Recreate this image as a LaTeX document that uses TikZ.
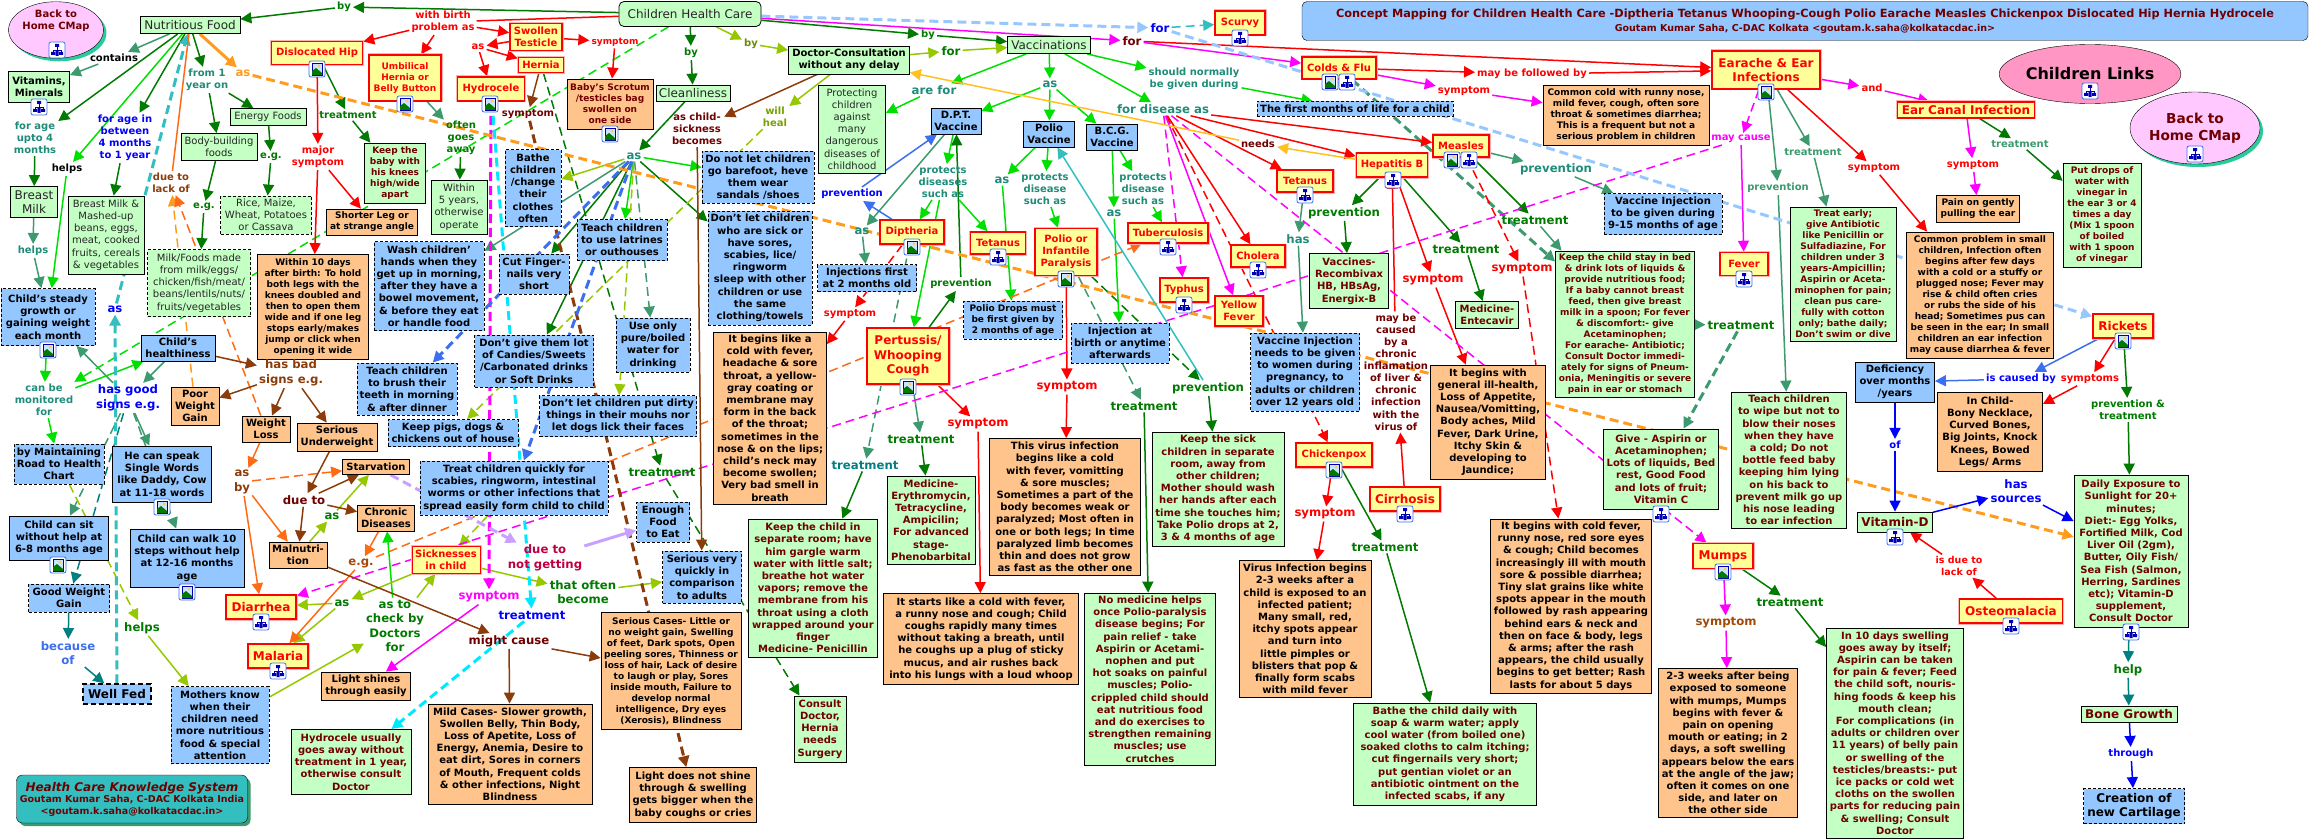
\documentclass[tikz,border=0pt]{standalone}
\usepackage{fontspec}
\setmainfont{DejaVu Sans}
\usetikzlibrary{arrows.meta,backgrounds,shapes.geometric,shadows}
\definecolor{cdark}{HTML}{007A00}
\definecolor{cbright}{HTML}{00E000}
\definecolor{clime}{HTML}{96C800}
\definecolor{csea}{HTML}{3C9A6E}
\definecolor{cteal}{HTML}{008080}
\definecolor{cbrown}{HTML}{8C3C0A}
\definecolor{cblue}{HTML}{0000FF}
\definecolor{croyal}{HTML}{3C6EF0}
\definecolor{cred}{HTML}{FF0000}
\definecolor{cmag}{HTML}{FF00FF}
\definecolor{ctq}{HTML}{33BFBF}
\definecolor{cfo}{HTML}{FF9C1E}
\definecolor{corg}{HTML}{FF6A14}
\definecolor{cgold}{HTML}{FFC020}
\definecolor{clb}{HTML}{96C8FF}
\definecolor{ccy}{HTML}{00E8FF}
\definecolor{cpur}{HTML}{C8A0FF}
\definecolor{cdred}{HTML}{700000}
\definecolor{cgfill}{HTML}{C4FFC4}
\definecolor{cofill}{HTML}{FFC48C}
\definecolor{cbfill}{HTML}{94C6FF}
\definecolor{cyfill}{HTML}{FFFF99}
\definecolor{clab}{HTML}{1E8C78}
\definecolor{cpink}{HTML}{FF96C3}
\definecolor{cpale}{HTML}{FFC8FF}
\tikzset{
  box/.style 2 args={minimum width=#1,minimum height=#2},
  sm/.style={font=\fontsize{9}{11}\bfseries\selectfont},
  big/.style={font=\fontsize{12}{14.5}\bfseries\selectfont},
  basebox/.style={rectangle,draw=black,line width=.8pt,inner sep=0pt,align=center,
    font=\fontsize{10}{12.2}\bfseries\selectfont},
  gbox/.style={basebox,fill=cgfill,text=cdred},
  gplain/.style={gbox,text=black!85,font=\fontsize{10}{12.2}\selectfont},
  gbig/.style={gbox,text=black!85,font=\fontsize{12}{14.5}\selectfont},
  obox/.style={basebox,fill=cofill,text=black},
  bbox/.style={basebox,fill=cbfill,text=black},
  bdash/.style={bbox,dash pattern=on 3pt off 2pt},
  ybox/.style={basebox,fill=cyfill,draw=cred,line width=1.6pt,text=cred,
    preaction={draw=cred!30,line width=3pt}},
  lab/.style={text=#1,inner sep=2pt,align=center,font=\fontsize{10}{12.1}\bfseries\selectfont},
  blab/.style={text=#1,inner sep=2pt,align=center,font=\fontsize{11.7}{14.6}\bfseries\selectfont},
  arr/.style={line width=1.5pt,-{Triangle[length=11pt,width=11pt]}},
  dsh/.style={dash pattern=on 9pt off 5pt},
  fat/.style={line width=3pt},
  mapicon/.pic={
    \draw[draw=croyal,fill=white,rounded corners=2pt,line width=.8pt] (-8,-8) rectangle (8,8);
    \draw[cblue!70!black,line width=.6pt] (0,-3)--(0,0) (-4,2)--(-4,0)--(4,0)--(4,2);
    \fill[cblue!70!black] (-2,-6) rectangle (2,-3) (-6,2) rectangle (-2,5) (2,2) rectangle (6,5) (-1.5,1) rectangle (1.5,6);
  },
  imgicon/.pic={
    \draw[draw=croyal,fill=white,rounded corners=2pt,line width=.8pt] (-8,-8) rectangle (8,8);
    \draw[cblue!70!black,fill=clb!50,line width=.5pt] (-5,-6) rectangle (5,6);
    \fill[cyfill!60!orange] (2,-3) circle (1.6);
    \fill[cdark] (-5,6) -- (-5,2) -- (-1,-1) -- (5,4) -- (5,6) -- cycle;
  },
}
\begin{document}
\begin{tikzpicture}[x=1pt,y=-1pt]
  \useasboundingbox (0,0) rectangle (2309,840);
  % concepts, left part
  \node[ellipse,draw=black,fill=cpale,inner sep=0pt,align=center,text=cdred,minimum width=93,minimum height=54,
    font=\fontsize{10}{12.2}\bfseries\selectfont,drop shadow={shadow xshift=3pt,shadow yshift=-3pt,fill=ctq!80!green,opacity=1}]
    (backL) at (56,30) {Back to\\Home CMap\\[8pt]\mbox{}};
  \node[gbig,box={100}{17}] (nutri) at (190,25) {Nutritious Food};
  \node[gbox,box={61}{31},text=black] (vitamins) at (39,87) {Vitamins,\\Minerals};
  \node[gbig,box={47}{31}] (breast) at (34,202) {Breast\\Milk};
  \node[gplain,box={76}{78}] (mashed) at (106,235) {Breast Milk \&\\Mashed-up\\beans, eggs,\\meat, cooked\\fruits, cereals\\\& vegetables};
  \node[gplain,box={76}{17}] (energy) at (268,117) {Energy Foods};
  \node[gplain,box={76}{27}] (bodyb) at (219,147) {Body-building\\foods};
  \node[gplain,box={91}{38},dash pattern=on 3pt off 2pt] (rice) at (266,215) {Rice, Maize,\\Wheat, Potatoes\\or Cassava};
  \node[gplain,box={103}{67},dash pattern=on 3pt off 2pt] (milkf) at (199,283) {Milk/Foods made\\from milk/eggs/\\chicken/fish/meat/\\beans/lentils/nuts/\\fruits/vegetables};
  \node[ybox,box={91}{23}] (disloc) at (317,53) {Dislocated Hip};
  \node[gbox,sm,box={61}{60}] (keepbaby) at (395,173) {Keep the\\baby with\\his knees\\high/wide\\apart};
  \node[obox,sm,box={91}{26}] (shorter) at (372,222) {Shorter Leg or\\at strange angle};
  \node[obox,sm,box={111}{105}] (within10) at (313,307) {Within 10 days\\after birth: To hold\\both legs with the\\knees doubled and\\then to open them\\wide and if one leg\\stops early/makes\\jump or click when\\opening it wide};
  \node[ybox,box={52}{27}] (swollen) at (536,37) {Swollen\\Testicle};
  \node[ybox,sm,box={72}{46}] (umbil) at (405,78) {Umbilical\\Hernia or\\Belly Button};
  \node[ybox,box={45}{15}] (hernia) at (541,65) {Hernia};
  \node[ybox,box={67}{24}] (hydro) at (491,89) {Hydrocele};
  \node[gplain,box={56}{54}] (within5) at (459,207) {Within\\5 years,\\otherwise\\operate};
  \node[bdash,box={56}{77}] (bathe) at (533,188) {Bathe\\children\\/change\\their\\clothes\\often};
  \node[bdash,box={110}{89}] (wash) at (429,286) {Wash children'\\hands when they\\get up in morning,\\after they have a\\bowel movement,\\\& before they eat\\or handle food};
  \node[bdash,box={70}{40}] (cut) at (534,274) {Cut Finger-\\nails very\\short};
  \node[obox,sm,text=cdred,box={86}{50}] (scrotum) at (610,104) {Baby's Scrotum\\/testicles bag\\swollen on\\one side};
  % concepts, top middle
  \node[gbig,rounded corners=5pt,box={142}{25}] (health) at (690,14) {Children Health Care};
  \node[gbig,box={74}{16}] (clean) at (693,93) {Cleanliness};
  \node[gbox,text=black,box={121}{28}] (doctor) at (849,60) {Doctor-Consultation\\without any delay};
  \node[gbig,box={83}{17}] (vacc) at (1049,45) {Vaccinations};
  \node[gplain,box={67}{88}] (protect) at (852,129) {Protecting\\children\\against\\many\\dangerous\\diseases of\\childhood};
  \node[bbox,box={50}{26}] (dpt) at (956,121) {D.P.T.\\Vaccine};
  \node[bbox,box={51}{26}] (polioV) at (1049,134) {Polio\\Vaccine};
  \node[bbox,box={51}{26}] (bcg) at (1112,137) {B.C.G.\\Vaccine};
  \node[bdash,box={112}{52}] (donot) at (758,177) {Do not let children\\go barefoot, heve\\them wear\\sandals /shoes};
  \node[bdash,box={104}{114}] (sickch) at (760,268) {Don't let children\\who are sick or\\have sores,\\scabies, lice/\\ringworm\\sleep with other\\children or use\\the same\\clothing/towels};
  \node[bdash,box={90}{41}] (latrines) at (622,240) {Teach children\\to use latrines\\or outhouses};
  \node[ybox,box={64}{24}] (diph) at (912,232) {Diptheria};
  \node[ybox,box={55}{22}] (tetA) at (998,243) {Tetanus};
  \node[ybox,box={62}{47}] (polioI) at (1066,252) {Polio or\\Infantile\\Paralysis};
  \node[ybox,box={80}{20}] (tuber) at (1168,233) {Tuberculosis};
  \node[bdash,box={99}{27}] (injFirst) at (867,278) {Injections first\\at 2 months old};
  % title, top right
  \node[rectangle,draw=black,rounded corners=5pt,fill=cbfill,text=cdred,inner sep=0pt,align=center,box={1006}{39},
    font=\fontsize{11.3}{13.5}\bfseries\selectfont] (title) at (1805,21)
    {Concept Mapping for Children Health Care -Diptheria Tetanus Whooping-Cough Polio Earache Measles Chickenpox Dislocated Hip Hernia Hydrocele\\
     {\fontsize{9.5}{12}\bfseries\selectfont Goutam Kumar Saha, C-DAC Kolkata <goutam.k.saha@kolkatacdac.in>}};
  \node[ybox,box={50}{24}] (scurvy) at (1240,23) {Scurvy};
  \node[ybox,box={74}{22}] (colds) at (1339,68) {Colds \& Flu};
  \node[ybox,big,box={108}{38}] (earache) at (1766,70) {Earache \& Ear\\Infections};
  \node[bdash,box={196}{15}] (firstm) at (1355,109) {The first months of life for a child};
  \node[obox,sm,box={166}{60}] (commonc) at (1626,115) {Common cold with runny nose,\\mild fever, cough, often sore\\throat \& sometimes diarrhea;\\This is a frequent but not a\\serious problem in children};
  \node[ybox,box={56}{22}] (measles) at (1461,146) {Measles};
  \node[ybox,box={71}{24}] (hepB) at (1392,165) {Hepatitis B};
  \node[ybox,box={56}{22}] (tetB) at (1305,181) {Tetanus};
  \node[bdash,box={118}{41}] (vac915) at (1663,214) {Vaccine Injection\\to be given during\\9-15 months of age};
  \node[gbox,box={79}{55}] (recomb) at (1349,281) {Vaccines-\\Recombivax\\HB, HBsAg,\\Energix-B};
  \node[ybox,box={54}{22}] (cholera) at (1258,256) {Cholera};
  \node[ybox,box={48}{24}] (typhus) at (1184,290) {Typhus};
  \node[ybox,box={48}{30}] (yellow) at (1239,311) {Yellow\\Fever};
  \node[gbox,sm,box={139}{146}] (keepstay) at (1625,324) {Keep the child stay in bed\\\& drink lots of liquids \&\\provide nutritious food;\\If a baby cannot breast\\feed, then give breast\\milk in a spoon; For fever\\\& discomfort:- give\\Acetaminophen;\\For earache- Antibiotic;\\Consult Doctor immedi-\\ately for signs of Pneum-\\onia, Meningitis or severe\\pain in ear or stomach};
  \node[gbox,box={63}{27}] (entecavir) at (1487,315) {Medicine-\\Entecavir};
  \node[bdash,box={109}{78}] (vacwomen) at (1305,372) {Vaccine Injection\\needs to be given\\to women during\\pregnancy, to\\adults or children\\over 12 years old};
  \node[gbox,box={132}{114}] (keepsick) at (1218,489) {Keep the sick\\children in separate\\room, away from\\other children;\\Mother should wash\\her hands after each\\time she touches him;\\Take Polio drops at 2,\\3 \& 4 months of age};
  \node[ybox,box={76}{24}] (chicken) at (1334,455) {Chickenpox};
  \node[ybox,big,box={70}{24}] (cirrh) at (1405,499) {Cirrhosis};
  \node[obox,box={115}{114}] (general) at (1488,422) {It begins with\\general ill-health,\\Loss of Appetite,\\Nausea/Vomitting,\\Body aches, Mild\\Fever, Dark Urine,\\Itchy Skin \&\\developing to\\Jaundice;};
  \node[gbox,box={115}{80}] (aspirin) at (1661,469) {Give - Aspirin or\\Acetaminophen;\\Lots of liquids, Bed\\rest, Good Food\\and lots of fruit;\\Vitamin C};
  \node[obox,box={161}{174}] (coldfev) at (1571,606) {It begins with cold fever,\\runny nose, red sore eyes\\\& cough; Child becomes\\increasingly ill with mouth\\sore \& possible diarrhea;\\Tiny slat grains like white\\spots appear in the mouth\\followed by rash appearing\\behind ears \& neck and\\then on face \& body, legs\\\& arms; after the rash\\appears, the child usually\\begins to get better; Rash\\lasts for about 5 days};
  \node[ybox,big,box={60}{25}] (mumps) at (1723,556) {Mumps};
  \node[obox,box={139}{149}] (weeks) at (1728,743) {2-3 weeks after being\\exposed to someone\\with mumps, Mumps\\begins with fever \&\\pain on opening\\mouth or eating; in 2\\days, a soft swelling\\appears below the ears\\at the angle of the jaw;\\often it comes on one\\side, and later on\\the other side};
  \node[gbox,box={137}{210}] (tendays) at (1895,733) {In 10 days swelling\\goes away by itself;\\Aspirin can be taken\\for pain \& fever; Feed\\the child soft, nouris-\\hing foods \& keep his\\mouth clean;\\For complications (in\\adults or children over\\11 years) of belly pain\\or swelling of the\\testicles/breasts:- put\\ice packs or cold wet\\cloths on the swollen\\parts for reducing pain\\\& swelling; Consult\\Doctor};
  \node[obox,box={132}{137}] (virusinf) at (1305,629) {Virus Infection begins\\2-3 weeks after a\\child is exposed to an\\infected patient;\\Many small, red,\\itchy spots appear\\and turn into\\little pimples or\\blisters that pop \&\\finally form scabs\\with mild fever};
  \node[gbox,box={183}{102}] (batheCh) at (1445,754) {Bathe the child daily with\\soap \& warm water; apply\\cool water (from boiled one)\\soaked cloths to calm itching;\\cut fingernails very short;\\put gentian violet or an\\antibiotic ointment on the\\infected scabs, if any};
  \node[ybox,box={48}{23}] (fever) at (1744,264) {Fever};
  \node[ybox,big,box={137}{16},line width=1.2pt] (canal) at (1966,110) {Ear Canal Infection};
  \node[obox,sm,box={83}{27}] (pain) at (1978,209) {Pain on gently\\pulling the ear};
  \node[gbox,sm,box={78}{104}] (drops) at (2102,215) {Put drops of\\water with\\vinegar in\\the ear 3 or 4\\times a day\\(Mix 1 spoon\\of boiled\\with 1 spoon\\of vinegar};
  \node[ellipse,draw=black,fill=cpink,inner sep=0pt,align=center,minimum width=148,minimum height=59,
    font=\fontsize{16}{18}\bfseries\selectfont] (links) at (2090,74) {Children Links};
  \node[ellipse,draw=black,fill=cpale,inner sep=0pt,align=center,text=cdred,minimum width=121,minimum height=72,
    font=\fontsize{13.7}{17}\bfseries\selectfont,drop shadow={shadow xshift=3pt,shadow yshift=-3pt,fill=ctq!80!green,opacity=1}]
    (backR) at (2195,128) {Back to\\Home CMap};
  \node[gbox,sm,box={106}{134}] (treatE) at (1843,274) {Treat early;\\give Antibiotic\\like Penicillin or\\Sulfadiazine, For\\children under 3\\years-Ampicillin;\\Aspirin or Aceta-\\minophen for pain;\\clean pus care-\\fully with cotton\\only; bathe daily;\\Don't swim or dive};
  \node[obox,sm,box={147}{126}] (commonp) at (1980,295) {Common problem in small\\children, Infection often\\begins after few days\\with a cold or a stuffy or\\plugged nose; Fever may\\rise \& child often cries\\or rubs the side of his\\head; Sometimes pus can\\be seen in the ear; In small\\children an ear infection\\may cause diarrhea \& fever};
  \node[ybox,big,box={60}{24}] (rickets) at (2123,326) {Rickets};
  \node[bbox,box={79}{40}] (defic) at (1895,382) {Deficiency\\over months\\/years};
  \node[obox,box={105}{79}] (inchild) at (1990,432) {In Child-\\Bony Necklace,\\Curved Bones,\\Big Joints, Knock\\Knees, Bowed\\Legs/ Arms};
  \node[gbox,box={115}{136}] (wipe) at (1789,460) {Teach children\\to wipe but not to\\blow their noses\\when they have\\a cold; Do not\\bottle feed baby\\keeping him lying\\on his back to\\prevent milk go up\\his nose leading\\to ear  infection};
  \node[gbox,box={114}{152}] (daily) at (2131,551) {Daily Exposure to\\Sunlight for 20+\\minutes;\\Diet:- Egg Yolks,\\Fortified Milk, Cod\\Liver Oil (2gm),\\Butter, Oily Fish/\\Sea Fish (Salmon,\\Herring, Sardines\\etc); Vitamin-D\\supplement,\\Consult Doctor};
  \node[gbox,big,box={75}{20}] (vitd) at (1895,522) {Vitamin-D};
  \node[ybox,big,box={103}{24}] (osteo) at (2011,611) {Osteomalacia};
  \node[gbox,big,box={96}{16}] (bone) at (2129,714) {Bone Growth};
  \node[bdash,big,box={101}{35}] (creation) at (2134,806) {Creation of\\new Cartilage};
  % concepts, lower left
  \node[bdash,box={94}{57}] (steady) at (48,317) {Child's steady\\growth or\\gaining weight\\each month};
  \node[bdash,box={90}{40}] (maint) at (59,464) {by Maintaining\\Road to Health\\Chart};
  \node[bbox,box={74}{26}] (healthy) at (178,348) {Child's\\healthiness};
  \node[obox,box={48}{38}] (poorw) at (195,406) {Poor\\Weight\\Gain};
  \node[obox,box={48}{26}] (wloss) at (266,429) {Weight\\Loss};
  \node[obox,box={80}{28}] (underw) at (337,437) {Serious\\Underweight};
  \node[obox,box={67}{15}] (starv) at (376,467) {Starvation};
  \node[obox,box={57}{26}] (chronic) at (386,518) {Chronic\\Diseases};
  \node[obox,box={58}{26}] (malnut) at (298,555) {Malnutri-\\tion};
  \node[bdash,box={100}{52}] (brush) at (407,389) {Teach children\\to brush their\\teeth in morning\\\& after dinner};
  \node[bdash,box={130}{27}] (pigs) at (453,433) {Keep pigs, dogs \&\\chickens out of house};
  \node[bdash,box={119}{52}] (candies) at (534,361) {Don't give them lot\\of Candies/Sweets\\/Carbonated drinks\\or Soft Drinks};
  \node[bdash,box={74}{54}] (pure) at (653,345) {Use only\\pure/boiled\\water for\\drinking};
  \node[bdash,box={157}{41}] (dirty) at (618,416) {Don't let children put dirty\\things in their mouhs nor\\let dogs lick their faces};
  \node[bdash,box={188}{54}] (quick) at (514,488) {Treat children quickly for\\scabies, ringworm, intestinal\\worms or other infections that\\spread easily form child to child};
  \node[ybox,box={68}{27},line width=1pt] (sickn) at (446,560) {Sicknesses\\in child};
  \node[bbox,box={99}{56}] (speak) at (162,474) {He can speak\\Single Words\\like Daddy, Cow\\at 11-18 words};
  \node[bbox,box={99}{44}] (sit) at (59,538) {Child can sit\\without help at\\6-8 months age};
  \node[bbox,box={114}{58}] (walk) at (187,558) {Child can walk 10\\steps without help\\at 12-16 months\\age};
  \node[bdash,box={81}{28}] (gweight) at (69,598) {Good Weight\\Gain};
  \node[bbox,big,box={68}{20},dash pattern=on 5pt off 3pt,line width=1.2pt] (wellfed) at (117,694) {Well Fed};
  \node[bdash,box={98}{77}] (mothers) at (220,725) {Mothers know\\when their\\children need\\more nutritious\\food \& special\\attention};
  \node[ybox,big,box={70}{24}] (diarrhea) at (261,607) {Diarrhea};
  \node[ybox,big,box={60}{24}] (malaria) at (278,656) {Malaria};
  \node[obox,box={89}{28}] (shines) at (366,686) {Light shines\\through easily};
  \node[gbox,box={120}{65}] (hydusual) at (351,762) {Hydrocele usually\\goes away without\\treatment in 1 year,\\otherwise consult\\Doctor};
  \node[obox,box={164}{100}] (mild) at (510,754) {Mild Cases- Slower growth,\\Swollen Belly, Thin Body,\\Loss of Apetite, Loss of\\Energy, Anemia, Desire to\\eat dirt, Sores in corners\\of Mouth, Frequent colds\\\& other infections, Night\\Blindness};
  \node[obox,sm,box={140}{117}] (serious) at (671,671) {Serious Cases- Little or\\no weight gain, Swelling\\of feet, Dark spots, Open\\peeling sores, Thinness or\\loss of hair, Lack of desire\\to laugh or play, Sores\\inside mouth, Failure to\\develop normal\\intelligence, Dry eyes\\(Xerosis), Blindness};
  \node[obox,box={127}{55}] (lightno) at (693,795) {Light does not shine\\through \& swelling\\gets bigger when the\\baby coughs or cries};
  \node[gbox,box={52}{66}] (consult) at (820,729) {Consult\\Doctor,\\Hernia\\needs\\Surgery};
  \node[obox,box={195}{91}] (starts) at (981,639) {It starts like a cold with fever,\\a runny nose and cough; Child\\coughs rapidly many times\\without taking a breath, until\\he coughs up a plug of sticky\\mucus, and air rushes back\\into his lungs with a loud whoop};
  \node[gbox,box={131}{172}] (nomed) at (1150,679) {No medicine helps\\once Polio-paralysis\\disease begins; For\\pain relief - take\\Aspirin or Acetami-\\nophen and put\\hot soaks on painful\\muscles; Polio-\\crippled child should\\eat nutritious food\\and do exercises to\\strengthen remaining\\muscles; use\\crutches};
  \node[rectangle,draw=black,rounded corners=6pt,fill=ctq,text=cdred,inner sep=0pt,align=center,box={231}{48},
    font=\fontsize{9.5}{11.5}\bfseries\selectfont,drop shadow={shadow xshift=3pt,shadow yshift=-3pt,fill=csea,opacity=1}]
    (info) at (132,799) {{\fontsize{12}{15}\bfseries\itshape\selectfont Health Care Knowledge System}\\Goutam Kumar Saha, C-DAC Kolkata India\\<goutam.k.saha@kolkatacdac.in>};
  \node[bdash,box={53}{40}] (enough) at (663,522) {Enough\\Food\\to Eat};
  \node[bdash,box={79}{52}] (quickly) at (702,577) {Serious very\\quickly in\\comparison\\to adults};
  \node[obox,box={113}{172}] (itbegin) at (770,418) {It begins like a\\cold with fever,\\headache \& sore\\throat, a yellow-\\gray coating or\\membrane may\\form in the back\\of the throat;\\sometimes in the\\nose \& on the lips;\\child's neck may\\become swollen;\\Very bad smell in\\breath};
  \node[ybox,big,box={82}{56}] (pertussis) at (908,356) {Pertussis/\\Whooping\\Cough};
  \node[bdash,sm,box={99}{38}] (polioDrops) at (1013,320) {Polio Drops must\\be first given by\\2 months of age};
  \node[bdash,box={98}{40}] (injBirth) at (1120,343) {Injection at\\birth or anytime\\afterwards};
  \node[gbox,box={88}{88}] (medEry) at (931,520) {Medicine-\\Erythromycin,\\Tetracycline,\\Ampicilin;\\For advanced\\stage-\\Phenobarbital};
  \node[gbox,box={129}{138}] (keepsep) at (813,588) {Keep the child in\\separate room; have\\him gargle warm\\water with little salt;\\breathe hot water\\vapors; remove the\\membrane from his\\throat using a cloth\\wrapped around your\\finger\\Medicine- Penicillin};
  \node[obox,box={151}{137}] (thisv) at (1065,507) {This virus infection\\begins like a cold\\with fever, vomitting\\\& sore muscles;\\Sometimes a part of the\\body becomes weak or\\paralyzed; Most often in\\one or both legs; In time\\paralyzed limb becomes\\thin and does not grow\\as  fast as the other one};
  % linking phrases
  \node[lab=cdark] (lByN) at (344,7) {by};
  \node[lab=cred] (lBirth) at (443,22) {with birth\\problem as};
  \node[lab=cred,font=\fontsize{9}{11}\bfseries\selectfont] (lSymS) at (615,42) {symptom};
  \node[lab=black] (lContains) at (114,58) {contains};
  \node[lab=clab] (lUpto) at (35,138) {for age\\upto 4\\months};
  \node[lab=black] (lHelpsB) at (67,169) {helps};
  \node[lab=clab] (lHelpsT) at (33,251) {helps};
  \node[lab=cblue] (lBetween) at (125,138) {for age in\\between\\4 months\\to 1 year};
  \node[lab=clab] (lFrom) at (207,80) {from 1\\year on};
  \node[blab=cfo] (lAsO) at (243,73) {as};
  \node[lab=cdark] (lEgA) at (271,157) {e.g.};
  \node[lab=cdark] (lEgB) at (204,207) {e.g.};
  \node[lab=cbrown] (lLack) at (171,183) {due to\\lack of};
  \node[lab=cdark] (lTreatD) at (348,115) {treatment};
  \node[lab=cred] (lMajor) at (318,157) {major\\symptom};
  \node[lab=cred] (lAsR) at (478,47) {as};
  \node[lab=cdred] (lSymH) at (528,114) {symptom};
  \node[lab=cdark] (lOften) at (461,138) {often\\goes\\away};
  \node[lab=cdark] (lByC) at (691,53) {by};
  \node[lab=clime!70!black] (lByD) at (751,44) {by};
  \node[lab=cdark] (lByV) at (928,35) {by};
  \node[blab=cdark] (lForD) at (951,51) {for};
  \node[blab=cdred] (lForM) at (1132,41) {for};
  \node[blab=cblue] (lForB) at (1160,28) {for};
  \node[blab=clab] (lAsT) at (634,156) {as};
  \node[lab=cdred] (lSick) at (697,129) {as child-\\sickness\\becomes};
  \node[lab=clime!80!black] (lHeal) at (775,117) {will\\heal};
  \node[blab=clab] (lAreFor) at (934,90) {are for};
  \node[blab=clab] (lAsV) at (1050,84) {as};
  \node[blab=clab] (lDisease) at (1163,109) {for disease as};
  \node[lab=cblue] (lPrevB) at (852,194) {prevention};
  \node[blab=clab] (lAsI) at (862,231) {as};
  \node[lab=clab] (lProtA) at (943,182) {protects\\diseases\\such as};
  \node[blab=clab] (lAsP) at (1002,180) {as};
  \node[lab=clab] (lProtB) at (1045,189) {protects\\disease\\such as};
  \node[blab=clab] (lAsG) at (1114,213) {as};
  \node[lab=clab] (lProtC) at (1143,189) {protects\\disease\\such as};
  \node[lab=cred] (lFollow) at (1532,74) {may be followed by};
  \node[lab=cred] (lSymC) at (1464,91) {symptom};
  \node[lab=clab] (lNormal) at (1194,79) {should normally\\be given during};
  \node[lab=cdred] (lNeeds) at (1258,144) {needs};
  \node[blab=clab] (lPrevM) at (1556,169) {prevention};
  \node[blab=cdark] (lPrevH) at (1344,213) {prevention};
  \node[blab=clab] (lHas) at (1298,239) {has};
  \node[blab=cdark] (lTreatM) at (1535,220) {treatment};
  \node[blab=cdark] (lTreatH) at (1466,249) {treatment};
  \node[blab=cred] (lSymM) at (1522,269) {symptom};
  \node[blab=cred] (lSymHe) at (1433,280) {symptom};
  \node[blab=cdark] (lTreatK) at (1741,325) {treatment};
  \node[blab=cdark] (lPrevP) at (1208,388) {prevention};
  \node[blab=cdark] (lTreatP) at (1144,406) {treatment};
  \node[lab=cdred] (lCaused) at (1396,372) {may be\\caused\\by  a\\chronic\\inflamation\\of liver \&\\chronic\\infection\\with the\\virus of};
  \node[blab=cred] (lSymCh) at (1325,514) {symptom};
  \node[blab=cdark] (lTreatCh) at (1385,547) {treatment};
  \node[blab=cdark] (lTreatMu) at (1790,602) {treatment};
  \node[blab=cbrown!80!orange] (lSymMu) at (1726,623) {symptom};
  \node[lab=cmag] (lCause) at (1741,139) {may cause};
  \node[lab=csea] (lPrevE) at (1778,188) {prevention};
  \node[lab=csea] (lTreatE) at (1813,152) {treatment};
  \node[lab=cred] (lSymE) at (1874,168) {symptom};
  \node[lab=cred] (lAnd) at (1872,88) {and};
  \node[lab=csea] (lTreatC) at (2020,144) {treatment};
  \node[lab=cred] (lSymCa) at (1973,165) {symptom};
  \node[lab=cblue] (lIsCaused) at (2021,379) {is caused by};
  \node[lab=cred] (lSymR) at (2090,379) {symptoms};
  \node[lab=cdark] (lPrevT) at (2128,410) {prevention \&\\treatment};
  \node[lab=cblue] (lOf) at (1895,445) {of};
  \node[blab=cblue] (lSources) at (2016,491) {has\\sources};
  \node[lab=cred,font=\fontsize{9.5}{11.5}\bfseries\selectfont] (lDue) at (1959,566) {is due to\\lack of};
  \node[blab=cdark] (lHelp) at (2128,670) {help};
  \node[lab=cblue] (lThrough) at (2131,754) {through};
  \node[blab=cblue] (lAsB) at (115,309) {as};
  \node[lab=clab] (lMonitor) at (44,400) {can be\\monitored\\for};
  \node[blab=cblue] (lGood) at (128,398) {has good\\signs e.g.};
  \node[blab=cbrown] (lBad) at (291,373) {has bad\\signs e.g.};
  \node[blab=cbrown] (lAsBy) at (242,482) {as\\by};
  \node[blab=cdred] (lDueTo) at (304,500) {due to};
  \node[blab=cdark] (lAsG2) at (332,516) {as};
  \node[blab=cbrown!80!orange] (lEgC) at (361,563) {e.g.};
  \node[blab=purple] (lNotGet) at (545,558) {due to\\not getting};
  \node[blab=cdark] (lAsD) at (342,603) {as};
  \node[blab=cdark] (lCheck) at (395,626) {as to\\check by\\Doctors\\for};
  \node[blab=cmag] (lSymL) at (489,597) {symptom};
  \node[blab=cblue] (lTreatL) at (532,615) {treatment};
  \node[blab=cdred] (lCauseM) at (509,641) {might cause};
  \node[blab=cdark] (lBecome) at (583,592) {that often\\become};
  \node[blab=croyal] (lBecause) at (68,653) {because\\of};
  \node[blab=cdark] (lHelpsG) at (142,628) {helps};
  \node[lab=cred] (lSymD) at (850,314) {symptom};
  \node[blab=cteal] (lTreatDip) at (865,465) {treatment};
  \node[lab=cdark] (lPrevPer) at (961,284) {prevention};
  \node[blab=cdark] (lTreatPer) at (921,439) {treatment};
  \node[blab=cred] (lSymPer) at (978,424) {symptom};
  \node[blab=cred] (lSymPol) at (1067,387) {symptom};
  \node[blab=cdark] (lTreatSick) at (662,472) {treatment};
  % connectors go under the boxes
  \begin{scope}[on background layer]
    \foreach \a/\b in {health/lByN,lByN/nutri,nutri/lUpto,lUpto/breast,nutri/lBetween,lBetween/mashed,nutri/lFrom,lFrom/bodyb,lFrom/energy,energy/lEgA,lEgA/rice,bodyb/lEgB,lEgB/milkf,disloc/lTreatD,lTreatD/keepbaby,lOften/within5,health/lByC,lByC/clean,clean/lAsT,lAsT/sickch,lAsT/cut,lAsT/candies,health/lByV,lByV/vacc,pertussis/lPrevPer,lPrevPer/dpt,lTreatDip/keepsep,lTreatPer/medEry,lTreatP/nomed,lPrevP/keepsick,hepB/lPrevH,lPrevH/recomb,hepB/lTreatH,lTreatH/entecavir,measles/lTreatM,canal/lTreatC,lTreatC/drops,chicken/lTreatCh,lTreatCh/batheCh,mumps/lTreatMu,lTreatMu/tendays,rickets/lPrevT,lPrevT/daily}
      \draw[arr,cdark] (\a) -- (\b);
    \foreach \a/\b in {hernia/lTreatSick,lTreatSick/consult,polioI/lPrevP}
      \draw[arr,dsh,cdark] (\a) -- (\b);
    \foreach \a/\b in {nutri/lContains,lContains/vitamins,breast/lHelpsT,lHelpsT/steady,umbil/lOften,healthy/lGood,lGood/steady,lGood/speak,lAsT/wash,dpt/lAsI,lAsI/injFirst,tetB/lHas,lHas/vacwomen,pertussis/lTreatPer,earache/lTreatE,lTreatE/treatE,earache/lPrevE,lPrevE/wipe,measles/lPrevM,lPrevM/vac915,lTreatM/keepstay,keepstay/lTreatK}
      \draw[arr,csea] (\a) -- (\b);
    \foreach \a/\b in {lGood/walk,lGood/sit,lAsT/pure,diph/lTreatDip,polioI/lTreatP}
      \draw[arr,dsh,csea] (\a) -- (\b);
    \draw[arr,dsh,fat,csea] (colds) -- (keepstay);
    \draw[arr,dsh,fat,csea] (lTreatK) -- (aspirin);
    \draw[arr,dsh,cteal] (lGood) -- (gweight);
    \foreach \a/\b in {gweight/lBecause,lBecause/wellfed,daily/lHelp,lHelp/bone}
      \draw[arr,cteal] (\a) -- (\b);
    \foreach \a/\b in {nutri/lHelpsB,lHelpsB/steady,steady/lMonitor,lMonitor/maint,lMonitor/healthy,vacc/lAreFor,lAreFor/protect,vacc/lAsV,lAsV/dpt,lAsV/polioV,lAsV/bcg,vacc/lDisease,vacc/lNormal,lNormal/firstm,lAsT/donot,lAsT/latrines,dpt/lProtA,lProtA/diph,lProtA/tetA,lProtA/pertussis,polioV/lAsP,lAsP/polioDrops,polioV/lProtB,lProtB/polioI,bcg/lAsG,lAsG/injBirth,bcg/lProtC,lProtC/tuber,lCheck/chronic}
      \draw[arr,cbright] (\a) -- (\b);
    \draw[arr,dsh,cbright] (health) -- (lMonitor);
    \foreach \a/\b in {health/lByD,lByD/doctor,doctor/lForD,lForD/vacc,doctor/lHeal,malnut/lAsG2,lAsG2/starv,sickn/lAsD,lAsD/diarrhea,lAsD/malaria,lCheck/sickn,mothers/lCheck,sickn/lBecome,lBecome/quickly,lHelpsG/mothers,lAsT/bathe}
      \draw[arr,clime] (\a) -- (\b);
    \foreach \a/\b in {lHeal/pigs,maint/lHelpsG,quick/sickn,lAsT/dirty}
      \draw[arr,dsh,clime] (\a) -- (\b);
    \foreach \a/\b in {lBirth/disloc,lBirth/umbil,lBirth/swollen,swollen/lSymS,lSymS/scrotum,swollen/lAsR,lAsR/hydro,lAsR/hernia,disloc/lMajor,lMajor/within10,lMajor/shorter,lForM/earache,lDisease/tetB,lDisease/hepB,lDisease/measles,lDisease/cholera,colds/lFollow,lFollow/earache,earache/lSymE,lSymE/commonp,lSymD/itbegin,pertussis/lSymPer,lSymPer/starts,polioI/lSymPol,lSymPol/thisv,hepB/lSymHe,lSymHe/general,lCaused/hepB,cirrh/lCaused,chicken/lSymCh,lSymCh/virusinf,rickets/lSymR,lSymR/inchild,osteo/lDue,lDue/vitd}
      \draw[arr,cred] (\a) -- (\b);
    \draw[line width=1.5pt,cred] (health) -- (lBirth);
    \foreach \a/\b in {diph/lSymD,lDisease/chicken,measles/lSymM,lSymM/coldfev}
      \draw[arr,dsh,cred] (\a) -- (\b);
    \foreach \a/\b in {health/lForM,lForM/colds,colds/lSymC,lSymC/commonc,earache/lAnd,lAnd/canal,canal/lSymCa,lSymCa/pain,lCause/fever,lSymL/shines,mumps/lSymMu,lSymMu/weeks,lDisease/yellow}
      \draw[arr,cmag] (\a) -- (\b);
    \foreach \a/\b in {earache/lCause,lCause/diarrhea,lDisease/typhus,lDisease/mumps}
      \draw[arr,dsh,cmag] (\a) -- (\b);
    \draw[arr,dsh,fat,cmag] (hydro) -- (lSymL);
    \foreach \a/\b in {health/lForB,lForB/rickets}
      \draw[arr,dsh,fat,clb] (\a) -- (\b);
    \foreach \a/\b in {wellfed/lAsB,lAsB/nutri}
      \draw[arr,dsh,fat,ctq] (\a) -- (\b);
    \draw[arr,dsh,ctq] (lForB) -- (scurvy);
    \draw[arr,fat,cfo] (nutri) -- (lAsO);
    \draw[arr,dsh,fat,cfo] (lAsO) -- (daily);
    \draw[line width=1.5pt,corg] (lLack) -- (nutri);
    \draw[arr,dsh,cfo] (poorw) -- (lLack);
    \foreach \a/\b in {wloss/lLack,lAsBy/starv,lEgC/tuber}
      \draw[arr,dsh,corg] (\a) -- (\b);
    \foreach \a/\b in {wloss/lAsBy,lAsBy/malnut,lAsBy/diarrhea,chronic/lEgC,lEgC/malaria}
      \draw[arr,corg] (\a) -- (\b);
    \foreach \a/\b in {doctor/lSick,lSick/quickly,hernia/lSymH,healthy/lBad,lBad/poorw,lBad/wloss,lBad/underw,underw/lDueTo,lDueTo/starv,lDueTo/chronic,lDueTo/malnut,malnut/lCauseM,lCauseM/mild,lCauseM/serious}
      \draw[arr,cbrown] (\a) -- (\b);
    \draw[arr,dsh,fat,cbrown] (lSymH) -- (lightno);
    \foreach \a/\b in {defic/lOf,lOf/vitd,vitd/lSources,lSources/daily,bone/lThrough,lThrough/creation}
      \draw[arr,cblue] (\a) -- (\b);
    \foreach \a/\b in {rickets/lIsCaused,lIsCaused/defic,diph/lPrevB,lPrevB/dpt}
      \draw[arr,croyal] (\a) -- (\b);
    \foreach \a/\b in {lAsT/brush,lAsT/quick}
      \draw[arr,dsh,fat,croyal] (\a) -- (\b);
    \draw[arr,dsh,fat,cpur] (starv) -- (lNotGet);
    \draw[arr,fat,cpur] (lNotGet) -- (enough);
    \foreach \a/\b in {hydro/lTreatL,lTreatL/hydusual}
      \draw[arr,dsh,fat,ccy] (\a) -- (\b);
    \draw[arr,ctq] (lPrevP) -- (polioV);
    \foreach \a/\b in {hepB/lNeeds,lNeeds/doctor}
      \draw[arr,cgold] (\a) -- (\b);
  \end{scope}
  % small icons on the concepts
  \foreach \x/\y in {57/50,39/107,998/257,1168/247,1240/38,1347/82,1469/160,1393/180,1305/195,1258/270,1184/305,1405/514,1661/514,2090/91,2195/154,1744/279,1895/537,2011/626,2131/632,261/622,278/671}
    \pic at (\x,\y) {mapicon};
  \foreach \x/\y in {317/69,405/104,490/104,610/134,912/247,1066/279,1330/82,1452/160,1766/92,1334/470,908/387,1723/572,2123/341,48/350,162/507,58/565,187/592}
    \pic at (\x,\y) {imgicon};
\end{tikzpicture}
\end{document}
